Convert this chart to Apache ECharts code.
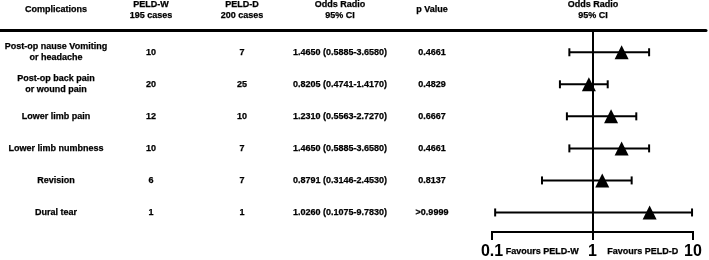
<!DOCTYPE html>
<html><head><meta charset="utf-8">
<script src="https://cdn.jsdelivr.net/npm/echarts@6/dist/echarts.min.js"></script>
<style>html,body{margin:0;padding:0;background:#fff}#c{width:709px;height:260px}</style>
</head><body><div id="c"></div>
<script>
// ---- data ----
const headers = ['Complications', 'PELD-W\n195 cases', 'PELD-D\n200 cases', 'Odds Radio\n95% CI', 'p Value'];
const plotHeader = 'Odds Radio\n95% CI';
const complications = ['Post-op nause Vomiting\nor headache', 'Post-op back pain\nor wound pain', 'Lower limb pain', 'Lower limb numbness', 'Revision', 'Dural tear'];
const peldW = [10, 20, 12, 10, 6, 1];
const peldD = [7, 25, 10, 7, 7, 1];
const orText = ['1.4650 (0.5885-3.6580)', '0.8205 (0.4741-1.4170)', '1.2310 (0.5563-2.7270)', '1.4650 (0.5885-3.6580)', '0.8791 (0.3146-2.4530)', '1.0260 (0.1075-9.7830)'];
const pValues = ['0.4661', '0.4829', '0.6667', '0.4661', '0.8137', '>0.9999'];
const ciLow = [0.5885, 0.4741, 0.5563, 0.5885, 0.3146, 0.1075];
const ciHigh = [3.658, 1.417, 2.727, 3.658, 2.453, 9.783];
// triangle positions as drawn in the figure
const markerOR = [1.95, 0.92, 1.53, 1.95, 1.25, 3.7];
const favours = ['Favours PELD-W', 'Favours PELD-D'];
const axisRange = [0.1, 10];

// ---- layout ----
const N = complications.length;
const BOTTOM_PAD = 0.61, TOP_PAD = 0.695;
const rowY = i => N - 1 - i + BOTTOM_PAD;          // first row at the top, y=0 at the axis line
const colX = [56, 151, 242, 340, 432];
const plotHeaderX = 593;
const headerY = rowY(0) + 1.32;
const favoursPos = [[0.316, -0.62], [3.16, -0.62]];
const yMin = 0, yMax = rowY(0) + TOP_PAD;
const FONT = '"Liberation Sans", Arial, Helvetica, sans-serif';

const chart = echarts.init(document.getElementById('c'), null, {renderer: 'canvas'});

const tableData = [];
headers.forEach((h, c) => tableData.push({value: [colX[c], headerY], name: h}));
tableData.push({value: [plotHeaderX, headerY], name: plotHeader});
const cols = [complications, peldW, peldD, orText, pValues];
cols.forEach((col, c) => col.forEach((v, i) => tableData.push({value: [colX[c], rowY(i)], name: String(v)})));

const txtLabel = {
  show: true, position: 'inside', formatter: '{b}', color: '#000', opacity: 1,
  textBorderColor: '#000', textBorderWidth: 0.25,
  fontFamily: FONT, fontWeight: 'bold', fontSize: 9, lineHeight: 11, align: 'center', verticalAlign: 'middle'
};

chart.setOption({
  animation: false,
  backgroundColor: '#fff',
  grid: [
    {left: 0, width: 706, top: 30, bottom: 28, outerBoundsMode: 'none', containLabel: false},
    {left: 492, right: 16, top: 30, bottom: 28, outerBoundsMode: 'none', containLabel: false}
  ],
  xAxis: [
    {gridIndex: 0, type: 'value', position: 'top', min: 0, max: 706,
     axisLine: {show: true, onZero: false, lineStyle: {color: '#000', width: 3}},
     axisTick: {show: false}, axisLabel: {show: false}, splitLine: {show: false}},
    {gridIndex: 1, type: 'log', logBase: 10, min: axisRange[0], max: axisRange[1],
     axisLine: {show: true, lineStyle: {color: '#000', width: 2}},
     axisTick: {show: true, length: 8, lineStyle: {color: '#000', width: 2}},
     axisLabel: {show: true, color: '#000', fontFamily: FONT, fontWeight: 'bold', fontSize: 16, margin: 12,
       formatter: v => String(Math.round(v * 10) / 10)},
     splitLine: {show: false}}
  ],
  yAxis: [
    {gridIndex: 0, type: 'value', min: yMin, max: yMax, show: false},
    {gridIndex: 1, type: 'value', min: yMin, max: yMax, show: false}
  ],
  series: [
    {
      type: 'scatter', xAxisIndex: 0, yAxisIndex: 0, clip: false, silent: true,
      symbolSize: 1, itemStyle: {color: 'rgba(0,0,0,0)', opacity: 1},
      label: txtLabel, data: tableData
    },
    {
      type: 'custom', xAxisIndex: 1, yAxisIndex: 1, clip: false, silent: true,
      data: ciLow.map((l, i) => [l, ciHigh[i], rowY(i)]),
      encode: {x: [0, 1], y: 2},
      renderItem: function (params, api) {
        const y = api.value(2);
        const lo = api.coord([api.value(0), y]);
        const hi = api.coord([api.value(1), y]);
        const cap = 4;
        const st = {stroke: '#000', lineWidth: 2};
        return {type: 'group', children: [
          {type: 'line', shape: {x1: lo[0], y1: lo[1], x2: hi[0], y2: hi[1]}, style: st},
          {type: 'line', shape: {x1: lo[0], y1: lo[1] - cap, x2: lo[0], y2: lo[1] + cap}, style: st},
          {type: 'line', shape: {x1: hi[0], y1: hi[1] - cap, x2: hi[0], y2: hi[1] + cap}, style: st}
        ]};
      }
    },
    {
      // axis baseline from 0.1 to 10, drawn through the axis scale on its own layer
      type: 'custom', xAxisIndex: 1, yAxisIndex: 1, clip: false, silent: true, z: 100, zlevel: 1,
      data: [[axisRange[0], axisRange[1], yMin]],
      encode: {x: [0, 1], y: 2},
      renderItem: function (params, api) {
        const a = api.coord([api.value(0), api.value(2)]);
        const b = api.coord([api.value(1), api.value(2)]);
        return {type: 'rect', shape: {x: a[0] - 1, y: a[1] - 1, width: b[0] - a[0] + 2, height: 2},
                style: {fill: '#000'}};
      }
    },
    {
      type: 'scatter', xAxisIndex: 1, yAxisIndex: 1, clip: false, silent: true, z: 5,
      symbol: 'triangle', symbolSize: [14, 14], itemStyle: {color: '#000', opacity: 1},
      data: markerOR.map((v, i) => [v, rowY(i)]),
      markLine: {
        silent: true, symbol: ['none', 'none'], label: {show: false},
        lineStyle: {color: '#000', width: 2, type: 'solid', opacity: 1},
        data: [{xAxis: 1}]
      }
    },
    {
      type: 'scatter', xAxisIndex: 1, yAxisIndex: 1, clip: false, silent: true,
      symbolSize: 1, itemStyle: {color: 'rgba(0,0,0,0)', opacity: 1},
      label: Object.assign({}, txtLabel, {fontSize: 9}),
      data: favours.map((f, k) => ({value: favoursPos[k], name: f}))
    }
  ]
});
</script>
</body></html>
